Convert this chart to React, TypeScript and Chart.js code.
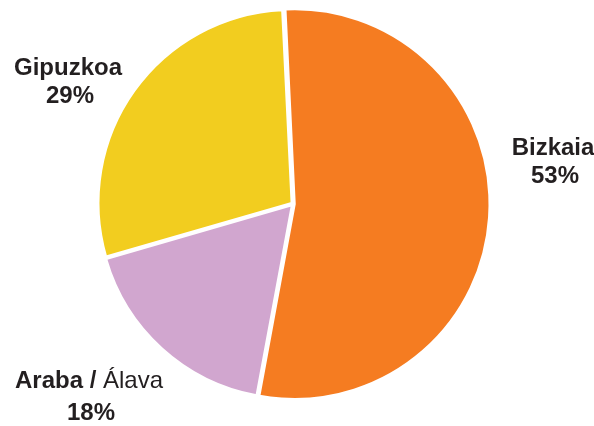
import React, { useEffect, useRef } from "react";
import { Chart, registerables } from "chart.js";

Chart.register(...registerables);

const categories = ["Bizkaia", "Araba", "Gipuzkoa"];
const values = [53.7, 17.6, 28.7];
const percentLabels = ["53%", "18%", "29%"];
const colors = ["#F57C21", "#D1A6CF", "#F2CD1F"];

const labelPlugin = {
  id: "sliceLabels",
  afterDraw(chart: any) {
    const ctx = chart.ctx;
    const ca = chart.chartArea;
    const cx = (ca.left + ca.right) / 2;
    const cy = (ca.top + ca.bottom) / 2;
    // label anchors relative to pie centre
    const anchors = [
      { dx: 260, dy: -49 },
      { dx: -204, dy: 184 },
      { dx: -225, dy: -129 },
    ];
    const bold = "bold 24px 'Liberation Sans', Arial, sans-serif";
    const regular = "24px 'Liberation Sans', Arial, sans-serif";
    ctx.save();
    ctx.fillStyle = "#231F20";
    ctx.textBaseline = "alphabetic";
    categories.forEach((cat, i) => {
      const x = cx + anchors[i].dx;
      const y = cy + anchors[i].dy;
      const lineGap = i === 1 ? 32 : 28;
      if (cat === "Araba") {
        const parts = [
          { t: "Araba / ", f: bold },
          { t: "Álava", f: regular },
        ];
        let total = 0;
        parts.forEach((p) => {
          ctx.font = p.f;
          total += ctx.measureText(p.t).width;
        });
        let sx = x - total / 2;
        ctx.textAlign = "left";
        parts.forEach((p) => {
          ctx.font = p.f;
          ctx.fillText(p.t, sx, y);
          sx += ctx.measureText(p.t).width;
        });
      } else {
        ctx.font = bold;
        ctx.textAlign = "center";
        ctx.fillText(cat, x, y);
      }
      ctx.font = bold;
      ctx.textAlign = "center";
      ctx.fillText(percentLabels[i], x + 2, y + lineGap);
    });
    ctx.restore();
  },
};

export default function App() {
  const ref = useRef<HTMLCanvasElement | null>(null);
  useEffect(() => {
    if (!ref.current) return;
    const chart = new Chart(ref.current, {
      type: "pie",
      data: {
        labels: categories,
        datasets: [
          {
            data: values,
            backgroundColor: colors,
            borderColor: "#FFFFFF",
            borderWidth: 2,
            offset: 7,
            hoverOffset: 7,
          },
        ],
      },
      options: {
        animation: false,
        responsive: false,
        rotation: -2.8,
        radius: 193,
        layout: { padding: { left: 0, right: 8, top: 0, bottom: 18 } },
        plugins: {
          legend: { display: false },
          tooltip: { enabled: false },
        },
      },
      plugins: [labelPlugin],
    });
    return () => chart.destroy();
  }, []);
  return (
    <div style={{ position: "fixed", left: 0, top: 0, width: 594, height: 426, background: "#fff" }}>
      <canvas ref={ref} width={594} height={426} style={{ width: 594, height: 426 }} />
    </div>
  );
}
